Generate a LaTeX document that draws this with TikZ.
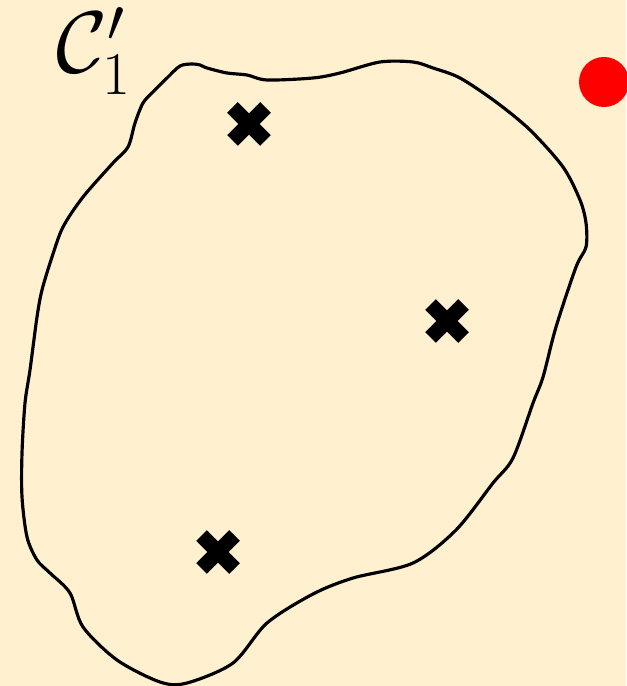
\documentclass[tikz,border=0pt]{standalone}
\usepackage{amsmath,amssymb}
\usetikzlibrary{calc}
\definecolor{paper}{HTML}{FFF1CF}
\definecolor{dotred}{HTML}{FF0000}
\begin{document}
\begin{tikzpicture}[
  x=0.01cm,
  y=-0.01cm,
  boundary/.style={draw=black, line width=0.9pt, line join=round},
  crossmark/.style={draw=black, line width=4.3pt},
  setlabel/.style={text=black, inner sep=0pt, font=\fontsize{24.5}{28}\selectfont}
]
  \def\armlen{16.5}

  % Page and its background.
  \fill[paper] (0,0) rectangle (626,686);
  \useasboundingbox (0,0) rectangle (626,686);

  % The set, drawn free hand.
  \draw[boundary] plot[smooth cycle, tension=0.5] coordinates {
    (180,66) (192,64) (200,65) (207,68) (227,73) (247,75) (267,80)
    (313,78) (340,73) (380,62) (413,62) (433,68) (460,78) (496,102)
    (530,130) (563,167) (580,200) (586,223) (586,247) (576,267)
    (556,327) (543,377) (533,403) (513,458) (493,483) (456,530)
    (413,563) (353,578) (313,594) (267,623) (233,663) (187,683)
    (160,682) (117,660) (83,627) (70,593) (50,573) (37,560) (27,537)
    (22,497) (22,453) (25,403) (30,370) (37,317) (42,290) (52,257)
    (63,227) (83,197) (113,163) (128,147) (135,123) (143,103)
    (153,92) (167,78)};

  % Points inside the set.
  \foreach \px/\py/\name in {249/124/top, 447/321/right, 218/552/bottom} {
    \coordinate (pt-\name) at (\px,\py);
    \draw[crossmark] ($(pt-\name)+(-\armlen,-\armlen)$) -- ($(pt-\name)+(\armlen,\armlen)$);
    \draw[crossmark] ($(pt-\name)+(-\armlen,\armlen)$) -- ($(pt-\name)+(\armlen,-\armlen)$);
  }

  % Point outside, cut by the page edge.
  \fill[dotred] (604,82) circle[radius=25];

  \node[setlabel, anchor=base west] (setname) at (56,73) {$\mathcal{C}'_1$};
\end{tikzpicture}
\end{document}
